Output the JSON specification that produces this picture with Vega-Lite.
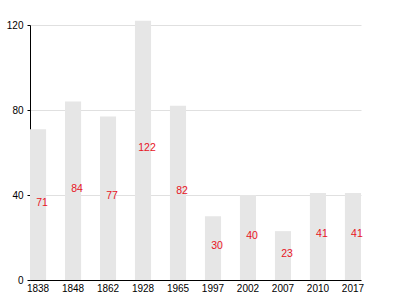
{
  "$schema": "https://vega.github.io/schema/vega-lite/v6.json",
  "autosize": "none",
  "padding": {"left": 30, "top": 25, "right": 39, "bottom": 20},
  "width": 331,
  "height": 255,
  "background": "white",
  "config": {"view": {"stroke": null}, "font": "Liberation Sans"},
  "data": {"values": [
    {"year": "1838", "value": 71},
    {"year": "1848", "value": 84},
    {"year": "1862", "value": 77},
    {"year": "1928", "value": 122},
    {"year": "1965", "value": 82},
    {"year": "1997", "value": 30},
    {"year": "2002", "value": 40},
    {"year": "2007", "value": 23},
    {"year": "2010", "value": 41},
    {"year": "2017", "value": 41}
  ]},
  "encoding": {
    "x": {"field": "year", "type": "nominal", "sort": null,
      "scale": {"paddingInner": 0.54, "paddingOuter": 0},
      "axis": {"title": null, "labelAngle": 0, "labelFontSize": 10, "labelColor": "#000", "domainColor": "#000", "domainWidth": 1, "ticks": false, "labelPadding": 3}}
  },
  "layer": [
    {"mark": {"type": "bar", "color": "#e6e6e6"},
      "encoding": {"y": {"field": "value", "type": "quantitative",
        "scale": {"domain": [0, 120], "nice": false},
        "axis": {"title": null, "values": [0, 40, 80, 120], "labelFontSize": 10, "labelColor": "#000", "domainColor": "#000", "tickColor": "#000", "tickSize": 3, "labelPadding": 4, "gridColor": "#e0e0e0", "grid": true}}}},
    {"mark": {"type": "text", "color": "#e8141e", "fontSize": 10.5, "dx": 4, "dy": -2, "baseline": "middle"},
      "encoding": {"y": {"field": "value", "type": "quantitative", "scale": {"domain": [0, 240], "nice": false}, "axis": null}, "text": {"field": "value"}}}
  ],
  "resolve": {"scale": {"y": "independent"}}
}
